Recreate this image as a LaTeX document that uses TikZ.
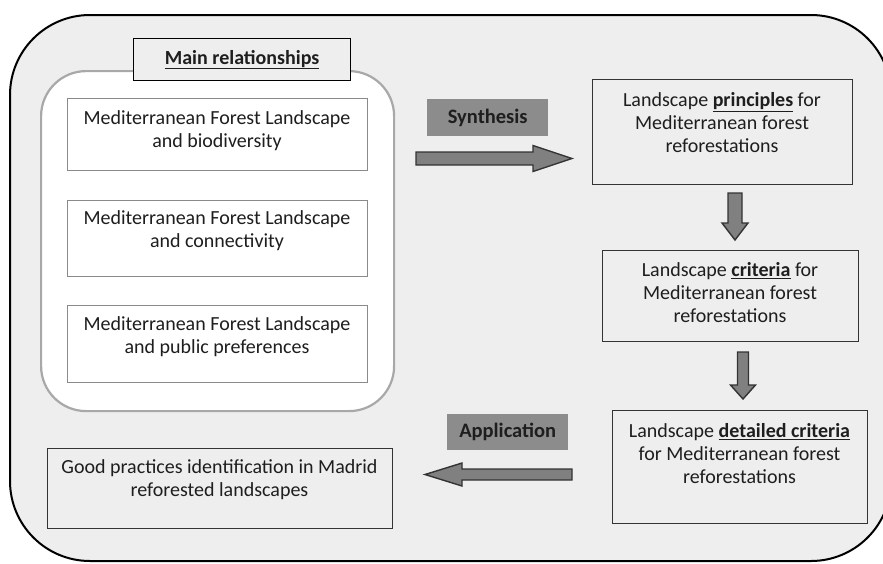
\documentclass[tikz,border=0pt]{standalone}
\usepackage{fontspec}
\setmainfont{Carlito}
\usetikzlibrary{calc}
\definecolor{bg}{HTML}{EEEEEE}
\definecolor{lab}{HTML}{8C8C8C}
\definecolor{arr}{HTML}{808080}
\definecolor{boxgray}{HTML}{8A8A8A}
\definecolor{grpgray}{HTML}{A8A8A8}
\definecolor{ink}{HTML}{1E1E1E}
\newcommand\blockarrow[5]{%
  \coordinate (hb) at ($(#2)!#5!(#1)$);
  \draw[blockarr] ($(#1)!#3!90:(#2)$) -- ($(hb)!#3!90:(#2)$) -- ($(hb)!#4!90:(#2)$) -- (#2)
    -- ($(hb)!#4!-90:(#2)$) -- ($(hb)!#3!-90:(#2)$) -- ($(#1)!#3!-90:(#2)$) -- cycle;}
\begin{document}
\begin{tikzpicture}[x=1pt,y=-1pt,
  txt/.style={align=center, text=ink, font=\fontsize{20}{23}\selectfont, inner sep=0pt},
  wbox/.style={draw=boxgray, line width=1pt, fill=white, inner sep=0pt, anchor=north west},
  dbox/.style={draw=black!80, line width=1.3pt, fill=bg, inner sep=0pt, anchor=north west},
  labbox/.style={fill=lab, inner sep=0pt, anchor=north west},
  labtxt/.style={txt, font=\fontsize{20.5}{23}\selectfont\bfseries},
  blockarr/.style={draw=black!80, line width=1.4pt, fill=arr, line join=miter}]
\useasboundingbox (0,0) rectangle (883,563);
\clip (0,0) rectangle (883,563);
% outer frame
\draw[line width=2pt, fill=bg, rounded corners=80pt] (10,15) rectangle (891,561);
% group box
\node[draw=grpgray, line width=2.2pt, fill=white, rounded corners=45pt, minimum width=353, minimum height=340, anchor=north west, inner sep=0pt] (grp) at (40,70) {};
\node[draw=black, line width=1.2pt, fill=bg, minimum width=217, minimum height=42, anchor=north west, inner sep=0pt, text=ink, font=\fontsize{20}{23}\selectfont\bfseries] (main) at (133,38) {\underline{Main relationships}};
% three relationship boxes
\node[wbox, minimum width=300, minimum height=72] (b1) at (67,98) {};
\node[txt] (t1) at (217,131) {Mediterranean Forest Landscape\\and biodiversity};
\node[wbox, minimum width=300, minimum height=76] (b2) at (67,200) {};
\node[txt] (t2) at (217,231) {Mediterranean Forest Landscape\\and connectivity};
\node[wbox, minimum width=300, minimum height=77] (b3) at (67,305) {};
\node[txt] (t3) at (217,336.5) {Mediterranean Forest Landscape\\and public preferences};
% right column
\node[dbox, minimum width=260, minimum height=105] (pr) at (592,79) {};
\node[txt] (tpr) at (722,122.5) {Landscape \underline{\textbf{principles}} for\\Mediterranean forest\\reforestations};
\node[dbox, minimum width=256, minimum height=91] (cr) at (602,250) {};
\node[txt] (tcr) at (730,292.5) {Landscape \underline{\textbf{criteria}} for\\Mediterranean forest\\reforestations};
\node[dbox, minimum width=255, minimum height=113] (dc) at (612,410) {};
\node[txt] (tdc) at (739.5,453.5) {Landscape \underline{\textbf{detailed criteria}}\\for Mediterranean forest\\reforestations};
% good practices
\node[dbox, minimum width=345, minimum height=80] (gp) at (47,448) {};
\node[txt] (tgp) at (219.5,480) {Good practices identification in Madrid\\reforested landscapes};
% labels
\node[labbox, minimum width=121, minimum height=37] (syn) at (427,99) {};
\node[labtxt] (tsyn) at (syn.center) {Synthesis};
\node[labbox, minimum width=121, minimum height=36] (app) at (447,414) {};
\node[labtxt] (tapp) at (app.center) {Application};
% arrows
\coordinate (sa) at (416,158.5);
\coordinate (sb) at (572,158.5);
\blockarrow{sa}{sb}{6.5pt}{13pt}{39pt}
\coordinate (d1a) at (735,193);
\coordinate (d1b) at (735,240);
\blockarrow{d1a}{d1b}{7pt}{13pt}{17pt}
\coordinate (d2a) at (743,352);
\coordinate (d2b) at (743,399);
\blockarrow{d2a}{d2b}{5.5pt}{12.5pt}{14pt}
\coordinate (aa) at (572,474.5);
\coordinate (ab) at (425,474.5);
\blockarrow{aa}{ab}{5.5pt}{11.5pt}{37pt}
\end{tikzpicture}
\end{document}
